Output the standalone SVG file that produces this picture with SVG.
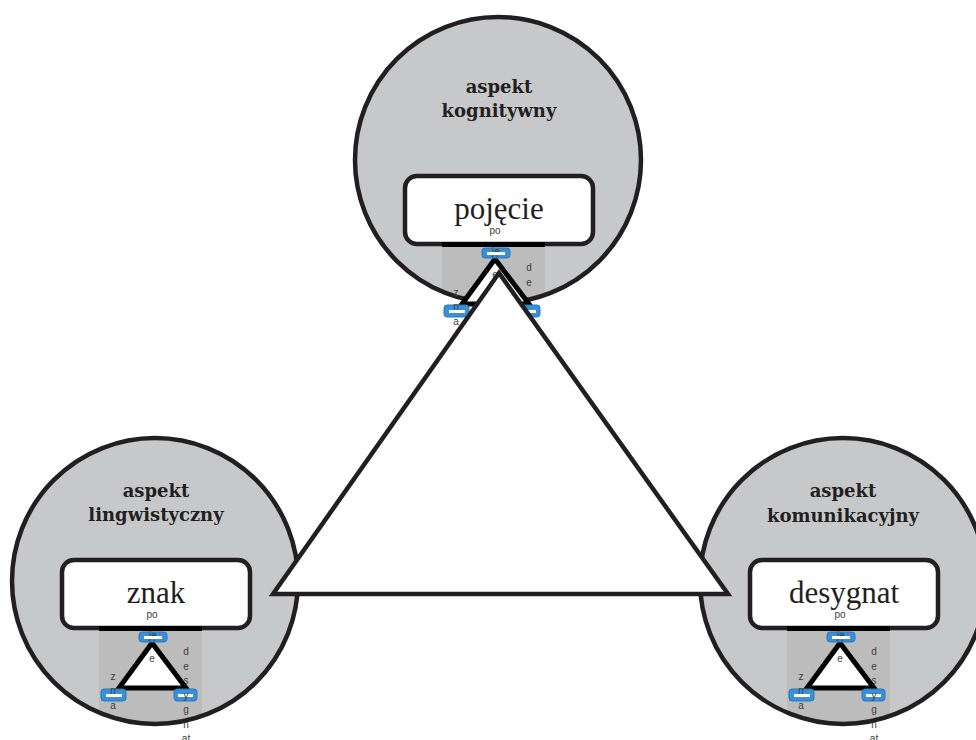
<svg xmlns="http://www.w3.org/2000/svg" xmlns:xlink="http://www.w3.org/1999/xlink" width="976" height="740" viewBox="0 0 976 740">
  <style>
    .disc { fill: #c7c8ca; }
    .ring { fill: none; stroke: #231f20; stroke-width: 4.5; }
    .shade { fill: #bcbcbd; }
    .aspect { font-family: "DejaVu Serif", "Liberation Serif", serif; font-weight: bold; font-size: 18px; fill: #231f20; text-anchor: middle; }
    .card { fill: #ffffff; stroke: #231f20; stroke-width: 4.5; }
    .term { font-family: "Liberation Serif", "Times New Roman", serif; font-size: 31px; fill: #231f20; text-anchor: middle; }
    .bar { fill: #000000; }
    .tiny { font-family: "Liberation Sans", Arial, sans-serif; font-size: 10px; fill: #3c3c3c; text-anchor: middle; }
    .mini-tri { fill: #ffffff; stroke: #000000; stroke-width: 5; stroke-linejoin: miter; }
    .handle { fill: #3b8fd4; stroke: #2a78b8; stroke-width: 1; }
    .grip { fill: #ffffff; }
    .edge { fill: #ffffff; stroke: #231f20; stroke-width: 4.5; stroke-linejoin: miter; }
  </style>
  <defs>
    <clipPath id="clip-top"><circle cx="498" cy="160" r="143"/></clipPath>
    <clipPath id="clip-left"><circle cx="155" cy="581" r="143"/></clipPath>
    <clipPath id="clip-right"><circle cx="843" cy="581" r="143"/></clipPath>

    <!-- small inset of the triangle, local coordinates relative to card corner -->
    <g id="inset-core">
      <text class="tiny" x="90" y="58">po</text>
      <polygon class="mini-tri" points="90,83 57,128 124,128"/>
      <rect class="handle" x="77" y="72" width="28" height="10" rx="3"/>
      <rect class="handle" x="39" y="129" width="25" height="12" rx="3"/>
      <rect class="handle" x="112" y="129" width="23" height="12" rx="3"/>
      <text class="tiny" x="91" y="79">ję</text>
      <rect class="grip" x="82" y="76" width="18" height="3"/>
      <rect class="grip" x="44" y="134" width="16" height="3"/>
      <rect class="grip" x="116" y="134" width="15" height="3"/>
      <text class="tiny" x="90" y="102">e</text>
      <text class="tiny" x="51" y="120">z</text>
      <text class="tiny" x="51" y="134">n</text>
      <text class="tiny" x="51" y="149">a</text>
      <text class="tiny" x="124" y="95">d</text>
      <text class="tiny" x="124" y="109.5">e</text>
    </g>
    <g id="inset-tail">
      <text class="tiny" x="124" y="138.5">y</text>
      <text class="tiny" x="124" y="153">g</text>
      <text class="tiny" x="124" y="167.5">n</text>
      <text class="tiny" x="124" y="182">at</text>
    </g>
  </defs>

  <!-- node: cognitive aspect -->
  <g id="node-pojecie">
    <circle class="disc" cx="498" cy="160" r="143"/>
    <rect class="shade" x="442" y="244" width="103" height="140" clip-path="url(#clip-top)"/>
    <circle class="ring" cx="498" cy="160" r="143"/>
    <text class="aspect" x="499" y="93">aspekt</text>
    <text class="aspect" x="499" y="117">kognitywny</text>
    <g transform="translate(405,176)">
      <rect class="card" x="0" y="0" width="188" height="68" rx="12"/>
      <text class="term" x="94" y="43">pojęcie</text>
      <rect class="bar" x="37" y="66" width="103" height="5"/>
      <use xlink:href="#inset-core"/>
    </g>
  </g>

  <!-- node: linguistic aspect -->
  <g id="node-znak">
    <circle class="disc" cx="155" cy="581" r="143"/>
    <rect class="shade" x="99" y="628" width="103" height="140" clip-path="url(#clip-left)"/>
    <circle class="ring" cx="155" cy="581" r="143"/>
    <text class="aspect" x="156" y="497">aspekt</text>
    <text class="aspect" x="156" y="521">lingwistyczny</text>
    <g transform="translate(62,560)">
      <rect class="card" x="0" y="0" width="188" height="68" rx="12"/>
      <text class="term" x="94" y="43">znak</text>
      <rect class="bar" x="37" y="66" width="103" height="5"/>
      <text class="tiny" x="124" y="124">s</text>
      <use xlink:href="#inset-core"/>
      <use xlink:href="#inset-tail"/>
    </g>
  </g>

  <!-- node: communicative aspect -->
  <g id="node-desygnat">
    <circle class="disc" cx="843" cy="581" r="143"/>
    <rect class="shade" x="787" y="628" width="103" height="140" clip-path="url(#clip-right)"/>
    <circle class="ring" cx="843" cy="581" r="143"/>
    <text class="aspect" x="843" y="497">aspekt</text>
    <text class="aspect" x="843" y="522">komunikacyjny</text>
    <g transform="translate(750,560)">
      <rect class="card" x="0" y="0" width="188" height="68" rx="12"/>
      <text class="term" x="94" y="43">desygnat</text>
      <rect class="bar" x="37" y="66" width="103" height="5"/>
      <text class="tiny" x="124" y="124">s</text>
      <use xlink:href="#inset-core"/>
      <use xlink:href="#inset-tail"/>
    </g>
  </g>

  <!-- connectors: the semiotic triangle joining the three aspects -->
  <g id="connectors">
    <polygon class="edge" points="499,273 273,594 728,594"/>
  </g>
</svg>
